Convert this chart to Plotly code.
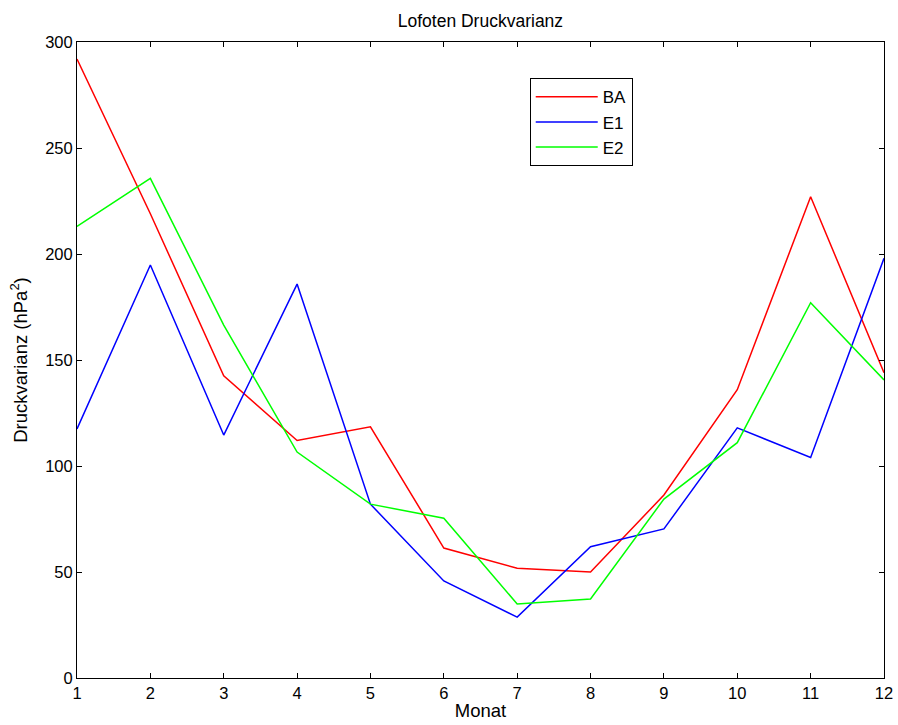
import plotly.graph_objects as go

# Monthly pressure variance at Lofoten for three runs
months = list(range(1, 13))
ba = [292, 219, 142.5, 112, 118.5, 61.3, 51.8, 50, 86.3, 136, 227, 144]
e1 = [117.5, 194.8, 114.6, 185.8, 82, 45.8, 28.7, 61.9, 70.3, 118, 104, 198]
e2 = [213, 235.7, 166.5, 106.6, 82, 75.4, 34.9, 37.3, 84.4, 111, 177, 140.6]

series = [("BA", ba, "#ff0000"), ("E1", e1, "#0000ff"), ("E2", e2, "#00ff00")]

font_family = "Liberation Sans, Arial, Helvetica, sans-serif"

fig = go.Figure()
for name, vals, color in series:
    fig.add_trace(go.Scatter(x=months, y=vals, mode="lines", name=name,
                             line=dict(color=color, width=1.5)))

axis_common = dict(showline=True, linecolor="black", linewidth=1, mirror="ticks",
                   ticks="inside", ticklen=5, tickcolor="black", showgrid=False,
                   zeroline=False, automargin=False, ticklabeloverflow="allow",
                   tickfont=dict(size=16.5, color="black", family=font_family))

fig.update_layout(
    width=898, height=725,
    margin=dict(l=77, r=14, t=42, b=47),
    paper_bgcolor="white", plot_bgcolor="white",
    title=dict(text="Lofoten Druckvarianz", x=0.535, xanchor="center", y=0.971, yanchor="middle",
               font=dict(size=17.5, color="black", family=font_family)),
    xaxis=dict(range=[1, 12], tickvals=months, title=dict(text="Monat", standoff=3,
               font=dict(size=18.5, color="black", family=font_family)), **axis_common),
    yaxis=dict(range=[0, 300], tickvals=[0, 50, 100, 150, 200, 250, 300],
               title=dict(text="Druckvarianz (hPa<sup>2</sup>)", standoff=12,
                          font=dict(size=18.5, color="black", family=font_family)), **axis_common),
    legend=dict(x=0.561, y=0.943, xanchor="left", yanchor="top", bordercolor="black",
                borderwidth=1, bgcolor="white", itemwidth=62,
                font=dict(size=17, color="black", family=font_family)),
    showlegend=True,
)

fig.write_html("out.html")
